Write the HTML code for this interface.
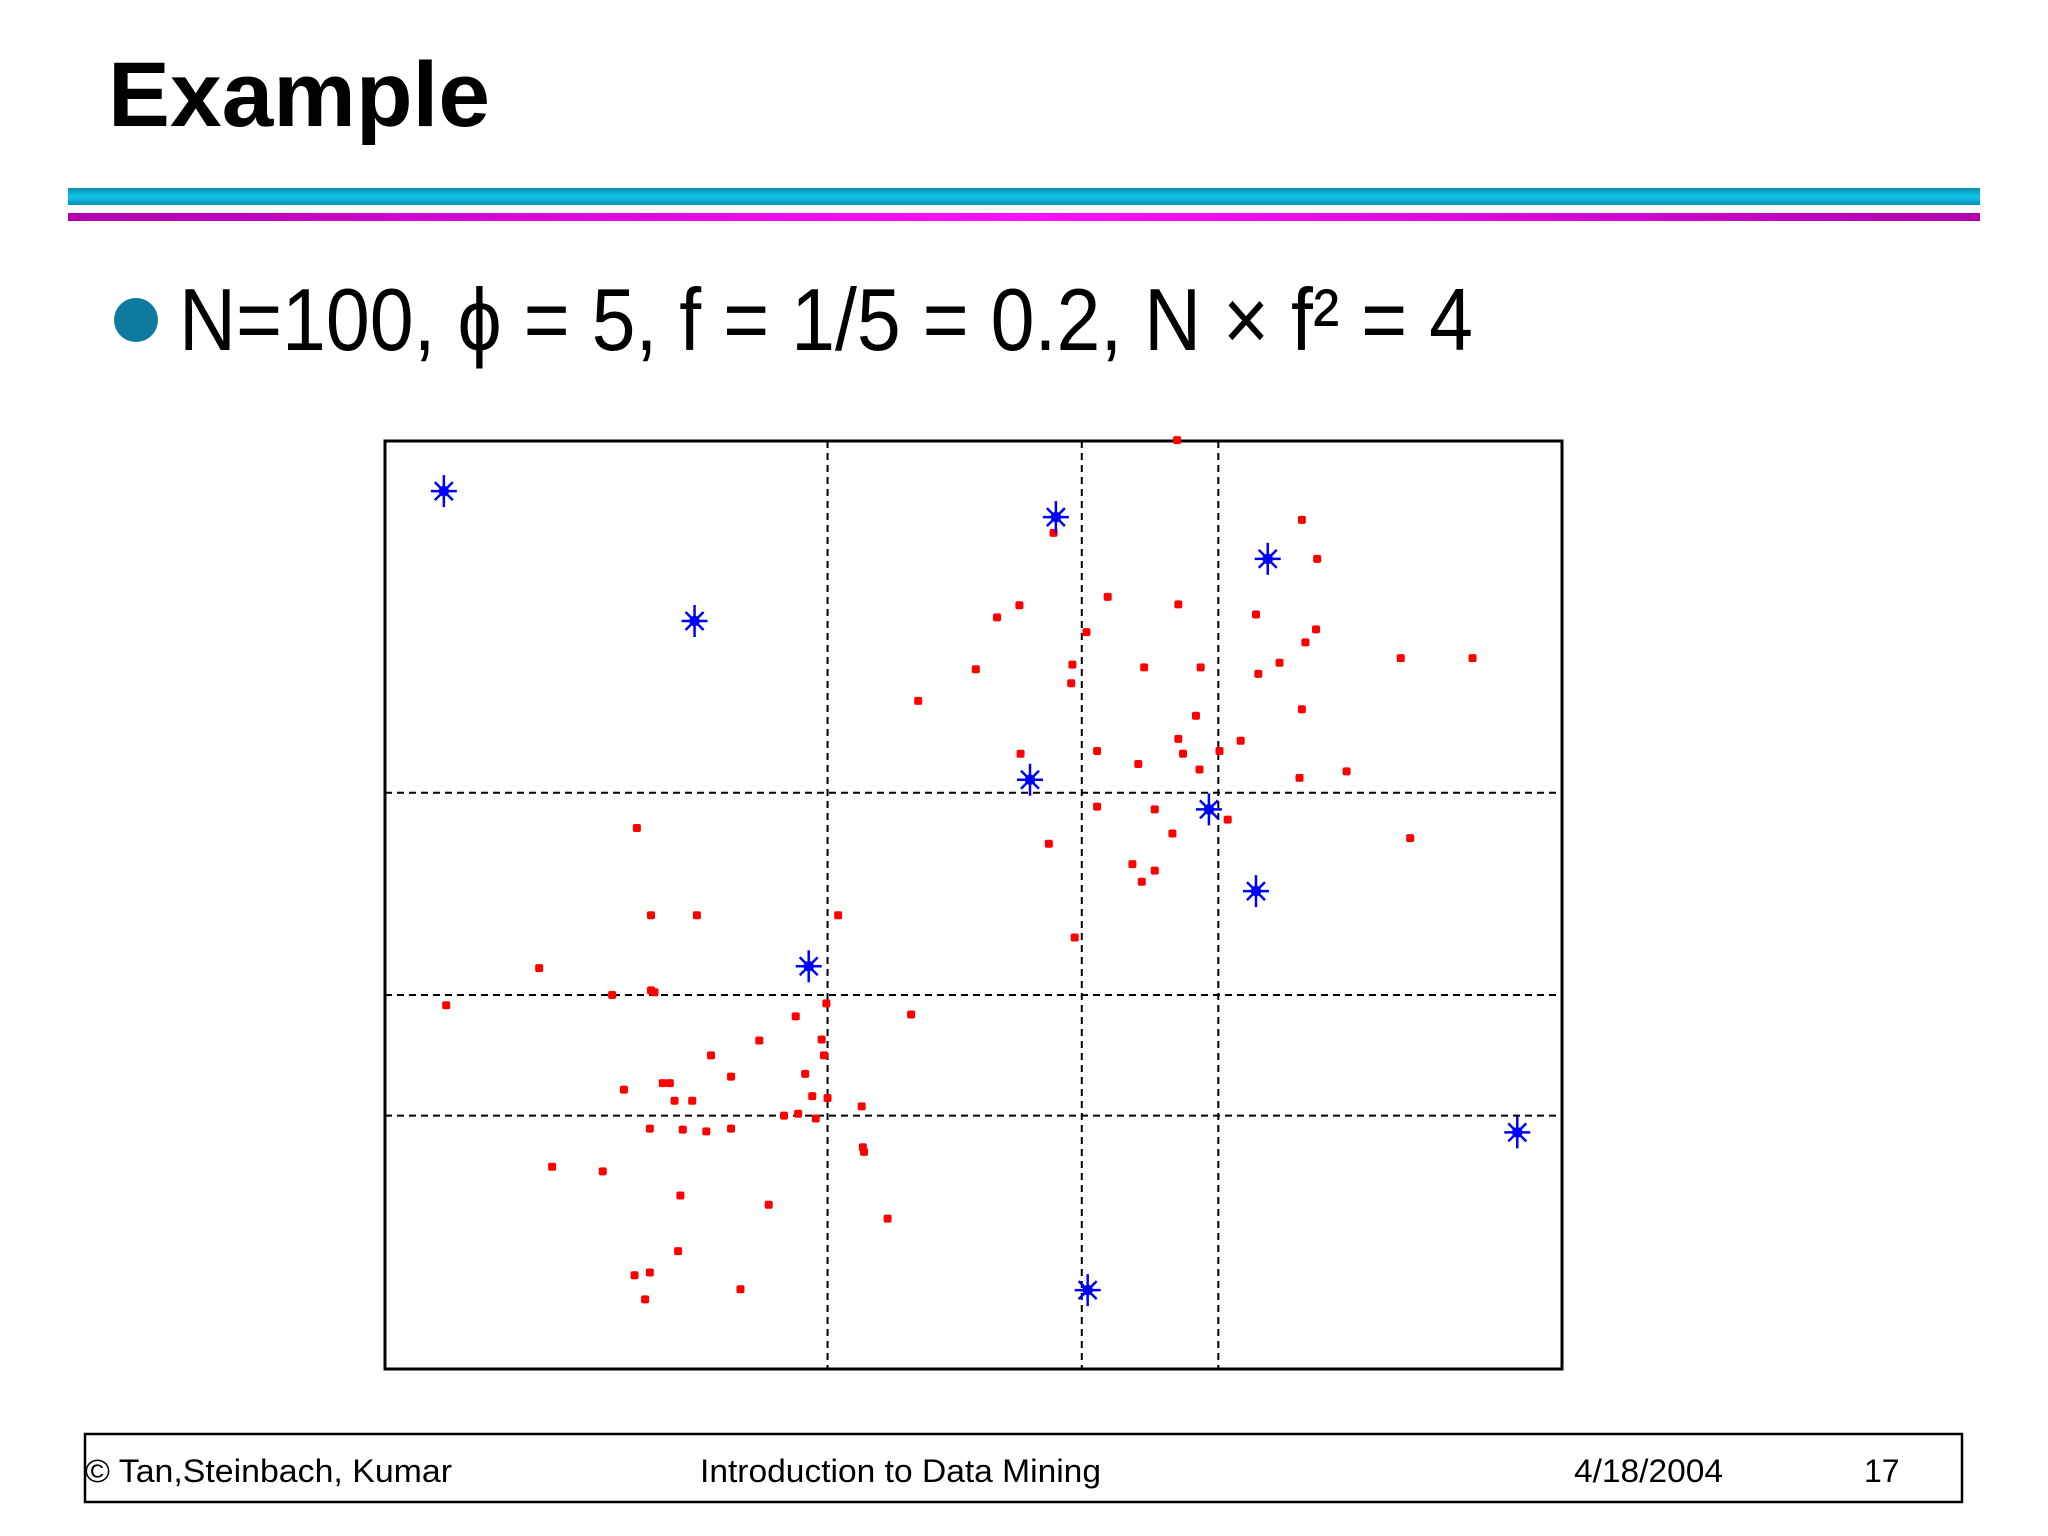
<!DOCTYPE html>
<html><head><meta charset="utf-8"><style>html,body{margin:0;padding:0;background:#fff}svg{display:block}</style></head>
<body>
<svg id="s" width="2048" height="1536" viewBox="0 0 2048 1536" xmlns="http://www.w3.org/2000/svg">
<defs>
<linearGradient id="cy" x1="0" y1="0" x2="0" y2="1"><stop offset="0" stop-color="#0a8fb5"/><stop offset="0.5" stop-color="#12c3ea"/><stop offset="1" stop-color="#0a8fb5"/></linearGradient>
<linearGradient id="mg" x1="0" y1="0" x2="1" y2="0"><stop offset="0" stop-color="#b000b0"/><stop offset="0.5" stop-color="#ff10ff"/><stop offset="1" stop-color="#b000b0"/></linearGradient>
</defs>
<text x="108" y="126" font-family="Liberation Sans, sans-serif" font-weight="bold" font-size="92" textLength="382" lengthAdjust="spacingAndGlyphs">Example</text>
<rect x="68" y="188" width="1912" height="17" fill="url(#cy)"/>
<rect x="68" y="213" width="1912" height="8" fill="url(#mg)"/>
<circle cx="136" cy="320" r="22" fill="#0e7a9e"/>
<text x="179" y="350" font-family="Liberation Sans, DejaVu Sans, sans-serif" font-size="88" textLength="1294" lengthAdjust="spacingAndGlyphs">N=100, ϕ = 5, f = 1/5 = 0.2, N × f² = 4</text>
<g id="chart"></g>
<rect x="85" y="1434" width="1877" height="68" fill="none" stroke="#000" stroke-width="2.5"/>
<g font-family="Liberation Sans, sans-serif" font-size="32" fill="#000">
<text x="85" y="1482" textLength="367" lengthAdjust="spacingAndGlyphs">© Tan,Steinbach, Kumar</text>
<text x="700" y="1482" textLength="401" lengthAdjust="spacingAndGlyphs">Introduction to Data Mining</text>
<text x="1574" y="1482" textLength="149" lengthAdjust="spacingAndGlyphs">4/18/2004</text>
<text x="1864" y="1482">17</text>
</g>
</svg>
<script>
const gridX = [37.6, 59.2, 70.8];
const gridY = [62.1, 40.3, 27.3];
const starX = [5.0, 26.3, 57.0, 75.0, 54.8, 70.0, 74.0, 36.0, 96.2, 59.7];
const starY = [94.6, 80.6, 91.8, 87.3, 63.5, 60.3, 51.5, 43.4, 25.5, 8.5];
const dotX = [67.3,77.9,79.2,56.8,61.4,67.4,53.9,52.0,74.0,59.6,79.1,78.2,86.3,92.4,76.0,74.2,50.2,58.4,64.5,69.3,58.3,45.3,77.9,68.9,67.4,72.7,70.9,54.0,60.5,67.8,64.0,69.2,77.7,81.7,60.5,65.4,71.6,66.9,87.1,56.4,63.5,65.4,64.3,58.6,
21.4,22.6,26.5,38.5,13.1,19.3,22.6,22.9,5.2,37.5,44.7,34.9,37.1,31.8,27.7,37.3,35.7,29.4,23.6,24.2,20.3,36.3,37.6,26.1,24.6,40.5,22.5,25.3,27.3,29.4,33.9,35.1,36.6,40.6,40.7,14.2,18.5,25.1,32.6,42.7,24.9,21.2,22.5,30.2,22.1];
const dotY = [100.1,91.5,87.3,90.1,83.2,82.4,82.3,81.0,81.3,79.4,79.7,78.3,76.6,76.6,76.1,74.9,75.4,75.9,75.6,75.6,73.9,72.0,71.1,70.4,67.9,67.7,66.6,66.3,66.6,66.3,65.2,64.6,63.7,64.4,60.6,60.3,59.2,57.7,57.2,56.6,54.4,53.7,52.5,46.5,
58.3,48.9,48.9,48.9,43.2,40.3,40.8,40.6,39.2,39.4,38.2,38.0,35.5,35.4,33.8,33.8,31.8,31.5,30.8,30.8,30.1,29.4,29.2,28.9,28.9,28.3,25.9,25.8,25.6,25.9,27.3,27.5,27.0,23.9,23.4,21.8,21.3,18.7,17.7,16.2,12.7,10.1,10.4,8.6,7.5];
const L=385, R=1562, T=441, B=1369;
const sx = v => L + v/100*(R-L);
const sy = v => B - v/100*(B-T);
const NS='http://www.w3.org/2000/svg';
const g=document.getElementById('chart');
function mk(tag, attrs){const e=document.createElementNS(NS,tag);for(const k in attrs)e.setAttribute(k,attrs[k]);g.appendChild(e);return e;}
gridX.forEach(v=>{const e=mk('line',{x1:sx(v),x2:sx(v),y1:T,y2:B,stroke:'#000','stroke-width':2,'stroke-dasharray':'7,5'});

});
gridY.forEach(v=>{const e=mk('line',{x1:L,x2:R,y1:sy(v),y2:sy(v),stroke:'#000','stroke-width':2,'stroke-dasharray':'7,5'});

});
const box=mk('rect',{x:L,y:T,width:R-L,height:B-T,fill:'none',stroke:'#000','stroke-width':3});


dotX.forEach((v,i)=>{const e=mk('rect',{x:sx(v)-4,y:sy(dotY[i])-4,width:8,height:8,rx:2,fill:'#f00'});

});
starX.forEach((v,i)=>{const cx=sx(v),cy=sy(starY[i]);const s=mk('g',{stroke:'#00f','stroke-width':2.5});


const add=(a,b,c,d)=>{const l=document.createElementNS(NS,'line');l.setAttribute('x1',a);l.setAttribute('y1',b);l.setAttribute('x2',c);l.setAttribute('y2',d);s.appendChild(l);};
add(cx-13,cy,cx+13,cy);add(cx,cy-16,cx,cy+16);add(cx-9,cy-9,cx+9,cy+9);add(cx-9,cy+9,cx+9,cy-9);
const d=document.createElementNS(NS,'circle');d.setAttribute('cx',cx);d.setAttribute('cy',cy);d.setAttribute('r',4);d.setAttribute('fill','#00f');s.appendChild(d);});
</script>
</body></html>
